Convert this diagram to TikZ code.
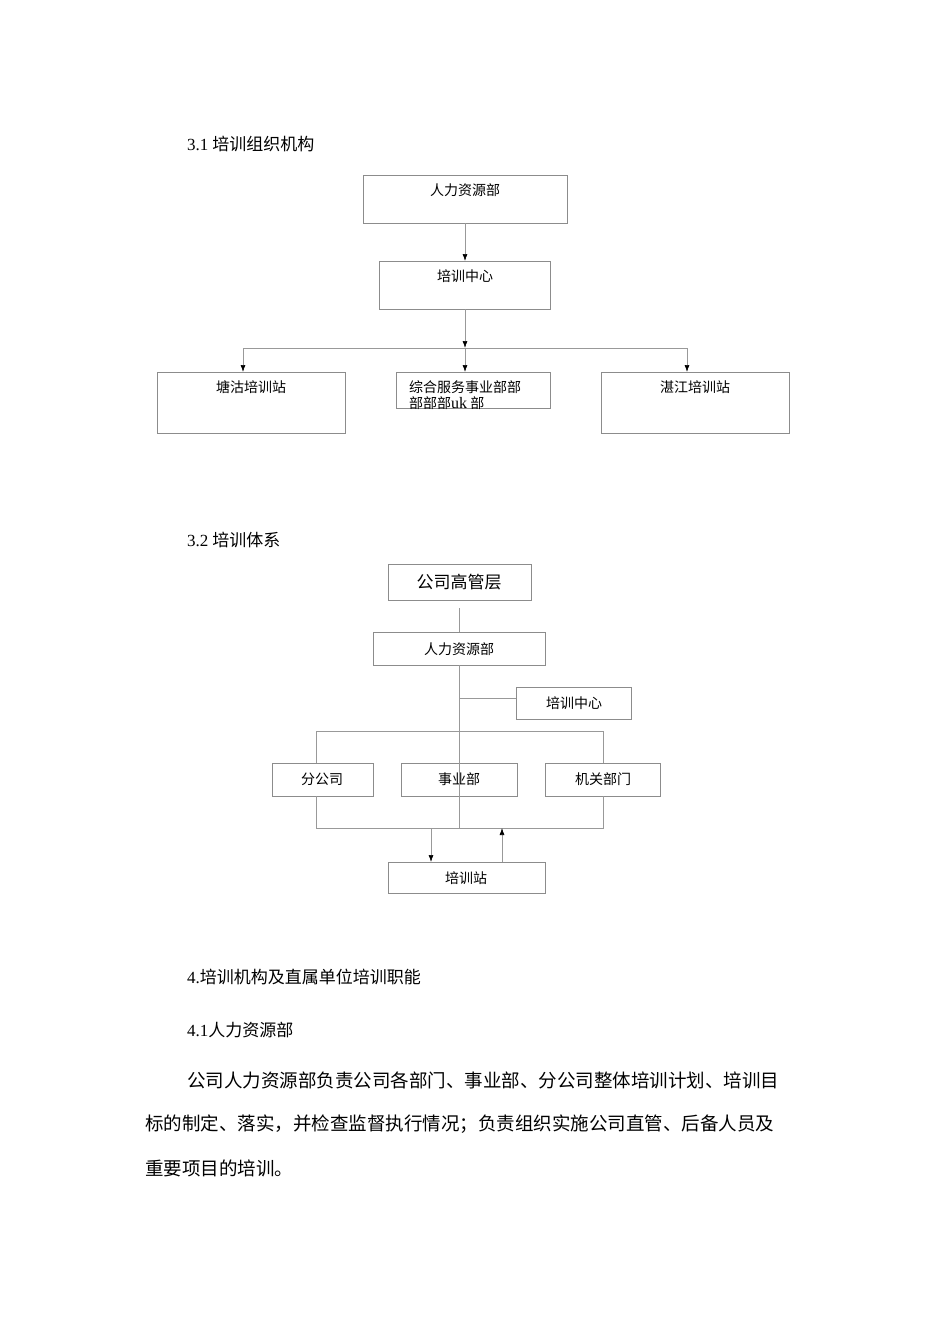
\documentclass[tikz,border=0pt]{standalone}
\usepackage{fontspec}
\setmainfont{Liberation Serif}
\newfontfamily\cjk{Noto Sans CJK SC}
\usetikzlibrary{arrows.meta}
\begin{document}
\begin{tikzpicture}[x=1pt,y=-1pt,
  bx/.style={draw=black!45,line width=0.8pt},
  ln/.style={draw=black!40,line width=0.7pt},
  ar/.style={ln,-{Latex[length=7pt,width=5pt,black]}},
  bt/.style={font=\cjk\fontsize{14}{16}\selectfont,anchor=north},
  tx/.style={font=\cjk\fontsize{17}{20}\selectfont,anchor=west,inner sep=0}]
\useasboundingbox[fill=white] (0,0) rectangle (950,1344);
% headings
\node[tx] (h1) at (187,144) {{\rmfamily 3.1} 培训组织机构};
\node[tx] (h2) at (187,540) {{\rmfamily 3.2} 培训体系};
\node[tx] (h3) at (187,977) {{\rmfamily 4.}培训机构及直属单位培训职能};
\node[tx] (h4) at (187,1030) {{\rmfamily 4.1}人力资源部};
\node[tx,font=\cjk\fontsize{18.5}{20}\selectfont] (p1) at (187,1080) {公司人力资源部负责公司各部门、事业部、分公司整体培训计划、培训目};
\node[tx,font=\cjk\fontsize{18.5}{20}\selectfont] (p2) at (145,1124) {标的制定、落实，并检查监督执行情况；负责组织实施公司直管、后备人员及};
\node[tx,font=\cjk\fontsize{18.5}{20}\selectfont] (p3) at (145,1168) {重要项目的培训。};
% diagram 1
\draw[bx] (363,175) rectangle (567,223);
\node[bt] (a1) at (465,180) {人力资源部};
\draw[bx] (379,261) rectangle (550,309);
\node[bt] (a2) at (465,266) {培训中心};
\draw[bx] (157,372) rectangle (345,433);
\node[bt] (a3) at (251,377) {塘沽培训站};
\draw[bx] (396,372) rectangle (550,408);
\node[bt,align=left,anchor=north west,inner sep=0] (a4) at (409,380) {综合服务事业部部\\部部部{\rmfamily\fontsize{16}{16}\selectfont uk} 部};
\draw[bx] (601,372) rectangle (789,433);
\node[bt] (a5) at (695,377) {湛江培训站};
\coordinate (c1) at (465,223); \coordinate (c2) at (465,261);
\draw[ar] (c1) -- (c2);
\coordinate (c3) at (465,309); \coordinate (c4) at (465,348);
\draw[ar] (c3) -- (c4);
\draw[ln] (243,348) -- (687,348);
\draw[ar] (243,348) -- (243,372);
\draw[ar] (465,348) -- (465,372);
\draw[ar] (687,348) -- (687,372);
% diagram 2
\draw[bx] (388,564) rectangle (531,600);
\node[bt,font=\cjk\fontsize{17}{20}\selectfont,anchor=center] (b1) at (459,582) {公司高管层};
\draw[bx] (373,632) rectangle (545,665);
\node[bt,anchor=center] (b2) at (459,649) {人力资源部};
\draw[bx] (516,687) rectangle (631,719);
\node[bt,anchor=center] (b3) at (574,703) {培训中心};
\draw[bx] (272,763) rectangle (373,796);
\node[bt,anchor=center] (b4) at (322,779) {分公司};
\draw[bx] (401,763) rectangle (517,796);
\node[bt,anchor=center] (b5) at (459,779) {事业部};
\draw[bx] (545,763) rectangle (660,796);
\node[bt,anchor=center] (b6) at (603,779) {机关部门};
\draw[bx] (388,862) rectangle (545,893);
\node[bt,anchor=center] (b7) at (466,878) {培训站};
\draw[ln] (459,608) -- (459,632);
\draw[ln] (459,665) -- (459,828);
\draw[ln] (459,698) -- (516,698);
\draw[ln] (316,763) -- (316,731) -- (603,731) -- (603,763);
\draw[ln] (316,796) -- (316,828) -- (603,828) -- (603,796);
\draw[ln] (459,796) -- (459,828);
\draw[ar] (431,828) -- (431,862);
\draw[ar] (502,862) -- (502,828);
\end{tikzpicture}
\end{document}
